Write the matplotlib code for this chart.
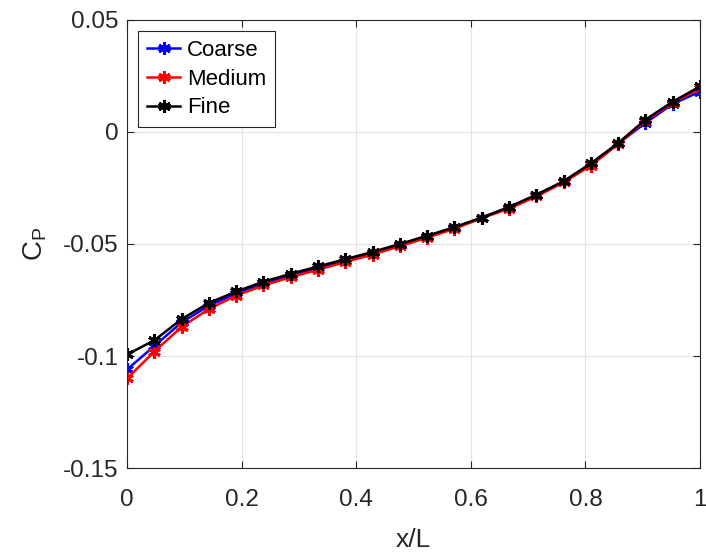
import numpy as np
import matplotlib
matplotlib.use("Agg")
import matplotlib.pyplot as plt

plt.rcParams["font.family"] = ["Liberation Sans", "DejaVu Sans"]
plt.rcParams["mathtext.fontset"] = "custom"
plt.rcParams["mathtext.rm"] = "Liberation Sans"
plt.rcParams["mathtext.it"] = "Liberation Sans"

# x/L stations (22 points)
x = [0.0, 0.0476, 0.0952, 0.1429, 0.1905, 0.2381, 0.2857, 0.3333, 0.3810, 0.4286, 0.4762,
     0.5238, 0.5714, 0.6190, 0.6667, 0.7143, 0.7619, 0.8095, 0.8571, 0.9048, 0.9524, 1.0]

cp_coarse = [-0.106, -0.0955, -0.0850, -0.0775, -0.0720, -0.0675, -0.0640, -0.0608, -0.0575, -0.0540,
             -0.0505, -0.0467, -0.0428, -0.0383, -0.0338, -0.0283, -0.0222, -0.0145, -0.0052, 0.0040,
             0.0125, 0.0180]
cp_medium = [-0.110, -0.0980, -0.0870, -0.0790, -0.0730, -0.0685, -0.0648, -0.0615, -0.0580, -0.0547,
             -0.0510, -0.0472, -0.0432, -0.0385, -0.0342, -0.0288, -0.0225, -0.0150, -0.0055, 0.0050,
             0.0130, 0.0195]
cp_fine = [-0.0993, -0.0930, -0.0835, -0.0763, -0.0712, -0.0668, -0.0633, -0.0600, -0.0568, -0.0535,
           -0.0500, -0.0463, -0.0425, -0.0382, -0.0335, -0.0280, -0.0220, -0.0140, -0.0050, 0.0055,
           0.0135, 0.0203]

fig = plt.figure(figsize=(7.06, 5.52), dpi=100)
ax = fig.add_axes([0.18, 0.152, 0.8115, 0.812])

mk = dict(marker=(6, 2, 0), markersize=9, markeredgewidth=2.2, lw=1.8)
ax.plot(x, cp_coarse, color="#0000ff", label="Coarse", **mk)
ax.plot(x, cp_medium, color="#ff0000", label="Medium", **mk)
ax.plot(x, cp_fine, color="black", label="Fine", **mk)

ax.set_xlim(0, 1)
ax.set_ylim(-0.15, 0.05)
ax.set_xticks([0, 0.2, 0.4, 0.6, 0.8, 1])
ax.set_xticklabels(["0", "0.2", "0.4", "0.6", "0.8", "1"])
ax.set_yticks([-0.15, -0.1, -0.05, 0, 0.05])
ax.set_yticklabels(["-0.15", "-0.1", "-0.05", "0", "0.05"])
ax.tick_params(direction="in", labelsize=17.5, length=5, top=True, right=True, colors="#262626")
ax.tick_params(axis="x", pad=15)
ax.tick_params(axis="y", pad=6)
ax.grid(True, color="#e3e3e3", lw=0.8)
ax.set_axisbelow(True)
for s in ax.spines.values():
    s.set_color("#262626")
    s.set_linewidth(0.8)

ax.set_xlabel("x/L", fontsize=19, color="#262626", labelpad=12)
ax.set_ylabel(r"C$_{\mathregular{P}}$", fontsize=20, color="#262626", labelpad=10)

leg = ax.legend(loc="upper left", fontsize=16, fancybox=False, edgecolor="#262626",
                framealpha=1, handlelength=1.5, handletextpad=0.3, borderaxespad=0.5,
                labelspacing=0.35, borderpad=0.4)
leg.get_frame().set_linewidth(0.8)

fig.savefig("out.png", dpi=100)
